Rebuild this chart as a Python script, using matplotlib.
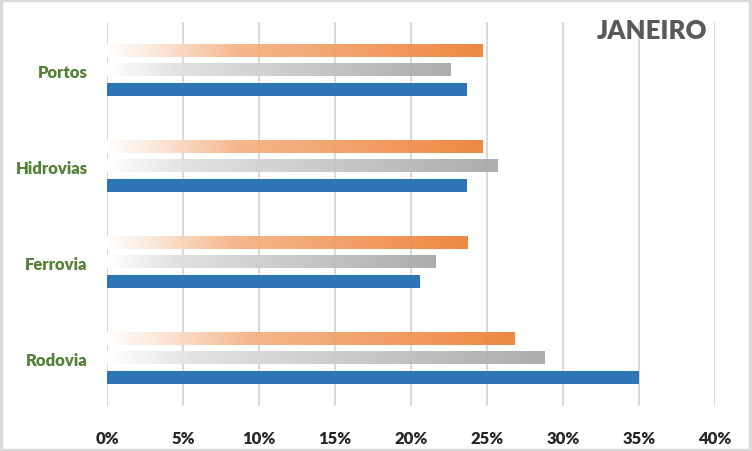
import numpy as np
import matplotlib.pyplot as plt
from matplotlib.colors import LinearSegmentedColormap
from matplotlib.patches import Rectangle

# dados (valores em %)
categorias = ['Rodovia', 'Ferrovia', 'Hidrovias', 'Portos']
serie_azul = [35.0, 20.6, 23.7, 23.7]
serie_cinza = [28.8, 21.6, 25.7, 22.6]
serie_laranja = [26.8, 23.7, 24.7, 24.7]
ticks_x = [0, 5, 10, 15, 20, 25, 30, 35, 40]

plt.rcParams['font.family'] = ['Lato', 'DejaVu Sans']

fig = plt.figure(figsize=(7.52, 4.52), dpi=100)
ax = fig.add_axes([107 / 752, 1 - 407 / 452, 608 / 752, 384 / 452])

y = np.arange(len(categorias))
off = 0.208
h = 0.135

# azul solido
ax.barh(y - off, serie_azul, height=h, color='#2E75B6', zorder=3)

cmap_cinza = LinearSegmentedColormap.from_list(
    'cinza', [(0, '#FFFFFF'), (0.2, '#E0E0E0'), (1, '#A5A5A5')])
cmap_laranja = LinearSegmentedColormap.from_list(
    'laranja', [(0, '#FFFFFF'), (0.15, '#FBE0CE'), (0.35, '#F4B183'), (1, '#ED7D31')])

grad = np.linspace(0, 1, 256).reshape(1, -1)

def barra_gradiente(yc, valores, cmap):
    for yi, v in zip(yc, valores):
        ax.imshow(grad, cmap=cmap, extent=[0, v, yi - h / 2, yi + h / 2],
                  aspect='auto', zorder=2, alpha=0.92, interpolation='bilinear')

barra_gradiente(y, serie_cinza, cmap_cinza)
barra_gradiente(y + off, serie_laranja, cmap_laranja)

ax.set_xlim(0, 40)
ax.set_ylim(-0.5, 3.5)
ax.set_xticks(ticks_x)
ax.set_xticklabels([f'{t}%' for t in ticks_x], fontsize=12, fontweight='heavy', color='#262626')
ax.set_yticks(y)
ax.set_yticklabels(categorias, fontsize=12, fontweight='heavy', color='#538135')
ax.tick_params(axis='both', length=0)
ax.tick_params(axis='x', pad=17)
ax.tick_params(axis='y', pad=14)
ax.grid(axis='x', color='#D9D9D9', linewidth=1.4)
ax.set_axisbelow(True)
for s in ax.spines.values():
    s.set_visible(False)

fig.text(707 / 752, 1 - 31 / 452, 'JANEIRO', ha='right', va='center',
         fontsize=18.5, fontweight='heavy', color='#595959')

# borda do grafico
fig.patches.append(Rectangle((0.001, 0.002), 0.997, 0.995, transform=fig.transFigure,
                             fill=False, edgecolor='#D9D9D9', linewidth=2.5))

fig.savefig('out.png', dpi=100)
